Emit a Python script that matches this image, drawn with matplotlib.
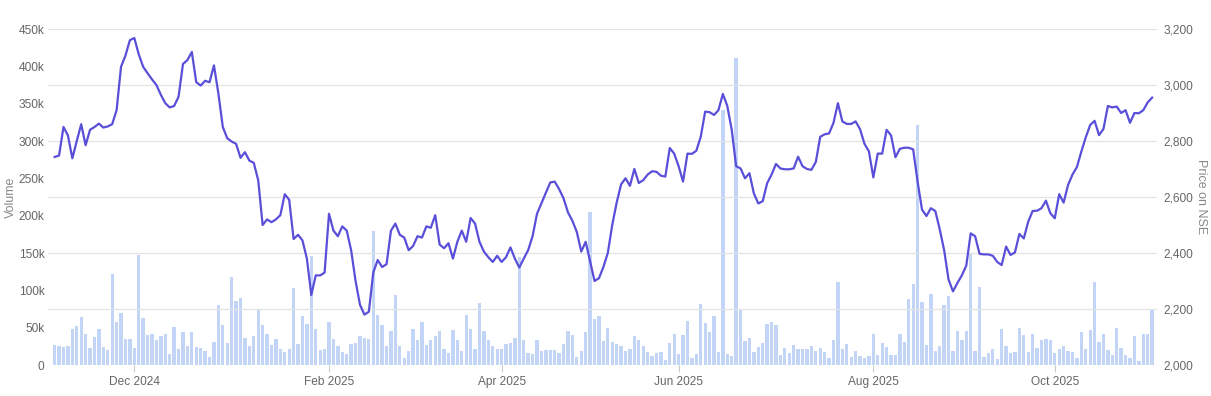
import matplotlib
matplotlib.use("Agg")
import matplotlib.pyplot as plt
import numpy as np
import pandas as pd
from matplotlib.ticker import FuncFormatter, MultipleLocator

plt.rcParams['font.family'] = ['Liberation Sans', 'DejaVu Sans']

# NSE trading calendar for the period shown
start_date = "2024-11-04"
end_date = "2025-11-04"
holidays = ["2024-11-15", "2024-11-20", "2024-12-25", "2025-02-26", "2025-03-14",
            "2025-03-31", "2025-04-10", "2025-04-14", "2025-04-18", "2025-05-01",
            "2025-08-15", "2025-08-27", "2025-10-02", "2025-10-22"]
special_sessions = ["2025-02-01"]

# daily traded volume, thousands of shares
volume_k = [
    27, 25, 24, 26, 48, 52, 64, 41, 23, 38,
    48, 24, 20, 122, 57, 69, 35, 35, 23, 147,
    63, 40, 42, 34, 39, 42, 15, 51, 21, 44,
    26, 44, 24, 23, 19, 11, 31, 80, 53, 29,
    118, 86, 90, 36, 26, 39, 75, 53, 42, 27,
    35, 21, 18, 21, 103, 28, 66, 55, 146, 48,
    20, 22, 57, 35, 26, 18, 15, 28, 29, 39,
    36, 35, 180, 67, 53, 26, 46, 94, 25, 10,
    19, 48, 34, 57, 27, 33, 39, 45, 21, 16,
    47, 34, 19, 67, 48, 21, 83, 46, 33, 25,
    21, 22, 28, 30, 36, 145, 33, 16, 15, 33,
    19, 20, 20, 20, 16, 28, 46, 40, 11, 19,
    44, 205, 62, 65, 32, 49, 31, 28, 25, 19,
    22, 39, 33, 26, 17, 12, 16, 17, 7, 30,
    42, 15, 40, 59, 10, 15, 82, 56, 44, 66,
    17, 342, 15, 12, 411, 74, 32, 36, 18, 24,
    29, 55, 57, 53, 13, 23, 16, 27, 22, 21,
    22, 25, 19, 23, 17, 10, 34, 111, 22, 28,
    11, 19, 12, 10, 12, 42, 13, 30, 24, 13,
    13, 42, 31, 88, 108, 322, 85, 27, 95, 19,
    26, 80, 93, 19, 45, 33, 46, 148, 19, 105,
    11, 16, 22, 8, 48, 25, 16, 17, 49, 40,
    17, 42, 23, 33, 35, 33, 16, 22, 25, 19,
    17, 10, 44, 21, 47, 111, 31, 42, 20, 14,
    50, 23, 13, 10, 39, 6, 42, 41, 75,
]

# closing price on NSE
price = [
    2743, 2748, 2850, 2820, 2738, 2800, 2860, 2785, 2840, 2850,
    2862, 2848, 2852, 2860, 2910, 3065, 3105, 3160, 3168, 3110,
    3065, 3042, 3020, 3000, 2965, 2935, 2920, 2925, 2958, 3075,
    3089, 3118, 3010, 2998, 3015, 3010, 3070, 2970, 2850, 2810,
    2798, 2790, 2740, 2760, 2730, 2722, 2660, 2500, 2520, 2510,
    2520, 2535, 2610, 2590, 2450, 2465, 2445, 2380, 2250, 2320,
    2320, 2330, 2540, 2480, 2460, 2495, 2480, 2410, 2300, 2215,
    2180, 2190, 2330, 2375, 2350, 2360, 2480, 2505, 2465, 2455,
    2410, 2425, 2460, 2455, 2495, 2490, 2535, 2430, 2417, 2435,
    2380, 2440, 2480, 2440, 2525, 2505, 2440, 2405, 2385, 2368,
    2390, 2368, 2385, 2420, 2380, 2348, 2380, 2410, 2460, 2540,
    2578, 2615, 2652, 2655, 2628, 2595, 2545, 2515, 2475, 2405,
    2440, 2370, 2300, 2310, 2350, 2400, 2500, 2580, 2645, 2667,
    2640, 2700, 2650, 2660, 2680, 2692, 2690, 2676, 2673, 2775,
    2755, 2710, 2655, 2755, 2754, 2765, 2815, 2905, 2903, 2893,
    2910, 2968, 2925, 2840, 2710, 2702, 2667, 2685, 2613, 2577,
    2585, 2649, 2680, 2718, 2702, 2699, 2699, 2702, 2744, 2710,
    2700, 2697, 2725, 2815, 2824, 2827, 2865, 2935, 2870, 2861,
    2861, 2870, 2842, 2790, 2763, 2670, 2755, 2755, 2840, 2820,
    2742, 2772, 2776, 2776, 2770, 2655, 2555, 2532, 2560, 2550,
    2485, 2410, 2305, 2263, 2293, 2320, 2355, 2470, 2460, 2397,
    2395, 2395, 2390, 2368, 2357, 2423, 2393, 2402, 2468, 2452,
    2512, 2550, 2551, 2560, 2587, 2542, 2524, 2610, 2580, 2643,
    2680, 2707, 2762, 2813, 2857, 2872, 2821, 2843, 2925, 2920,
    2923, 2900, 2910, 2865, 2900, 2899, 2910, 2938, 2955,
]

month_ticks = ["2024-12", "2025-02", "2025-04", "2025-06", "2025-08", "2025-10"]

# build trading days
dates = pd.bdate_range(start_date, end_date, freq="C", holidays=holidays)
dates = dates.union(pd.DatetimeIndex(special_sessions))
assert len(dates) == len(volume_k) == len(price), (len(dates), len(volume_k), len(price))

x = np.arange(len(dates))
tick_pos = [int(np.argmax(dates >= pd.Timestamp(m + "-01"))) for m in month_ticks]
tick_lab = [dates[p].strftime("%b %Y") for p in tick_pos]

txt = "#666666"
fig = plt.figure(figsize=(12.11, 3.96), dpi=100)
ax = fig.add_axes([48 / 1211, 31 / 396, 1109 / 1211, 336 / 396])
ax2 = ax.twinx()

ax.bar(x, np.array(volume_k) * 1000, width=0.75, color="#c3d5f7", zorder=2)
ax2.plot(x, price, color="#5a4fd8", lw=1.6, solid_joinstyle="round", zorder=3)

ax.set_xlim(-1.5, len(x) + 0.1)
ax.set_ylim(0, 450000)
ax2.set_ylim(2000, 3200)
ax.yaxis.set_major_locator(MultipleLocator(50000))
ax.yaxis.set_major_formatter(FuncFormatter(lambda v, p: "0" if v == 0 else f"{v/1000:.0f}k"))
ax2.yaxis.set_major_locator(MultipleLocator(200))
ax2.yaxis.set_major_formatter(FuncFormatter(lambda v, p: f"{v:,.0f}"))

ax2.grid(axis="y", color="#e3e3e3", lw=0.9)
ax.set_zorder(1)
ax2.set_zorder(2)
ax2.patch.set_visible(False)

ax.set_xticks(tick_pos)
ax.set_xticklabels(tick_lab)
for a in (ax, ax2):
    for s in a.spines.values():
        s.set_visible(False)
ax.tick_params(axis="x", length=5, color="#cccccc", colors=txt, labelsize=8.6, pad=3)
ax.tick_params(axis="y", length=0, colors=txt, labelsize=8.6, pad=2.5)
ax2.tick_params(axis="y", length=0, colors=txt, labelsize=8.6, pad=4.5)

ax.set_ylabel("Volume", color="#888888", fontsize=9, labelpad=1)
ax2.set_ylabel("Price on NSE", color="#888888", fontsize=9, rotation=-90, labelpad=10)

fig.savefig("out.png", dpi=100)
